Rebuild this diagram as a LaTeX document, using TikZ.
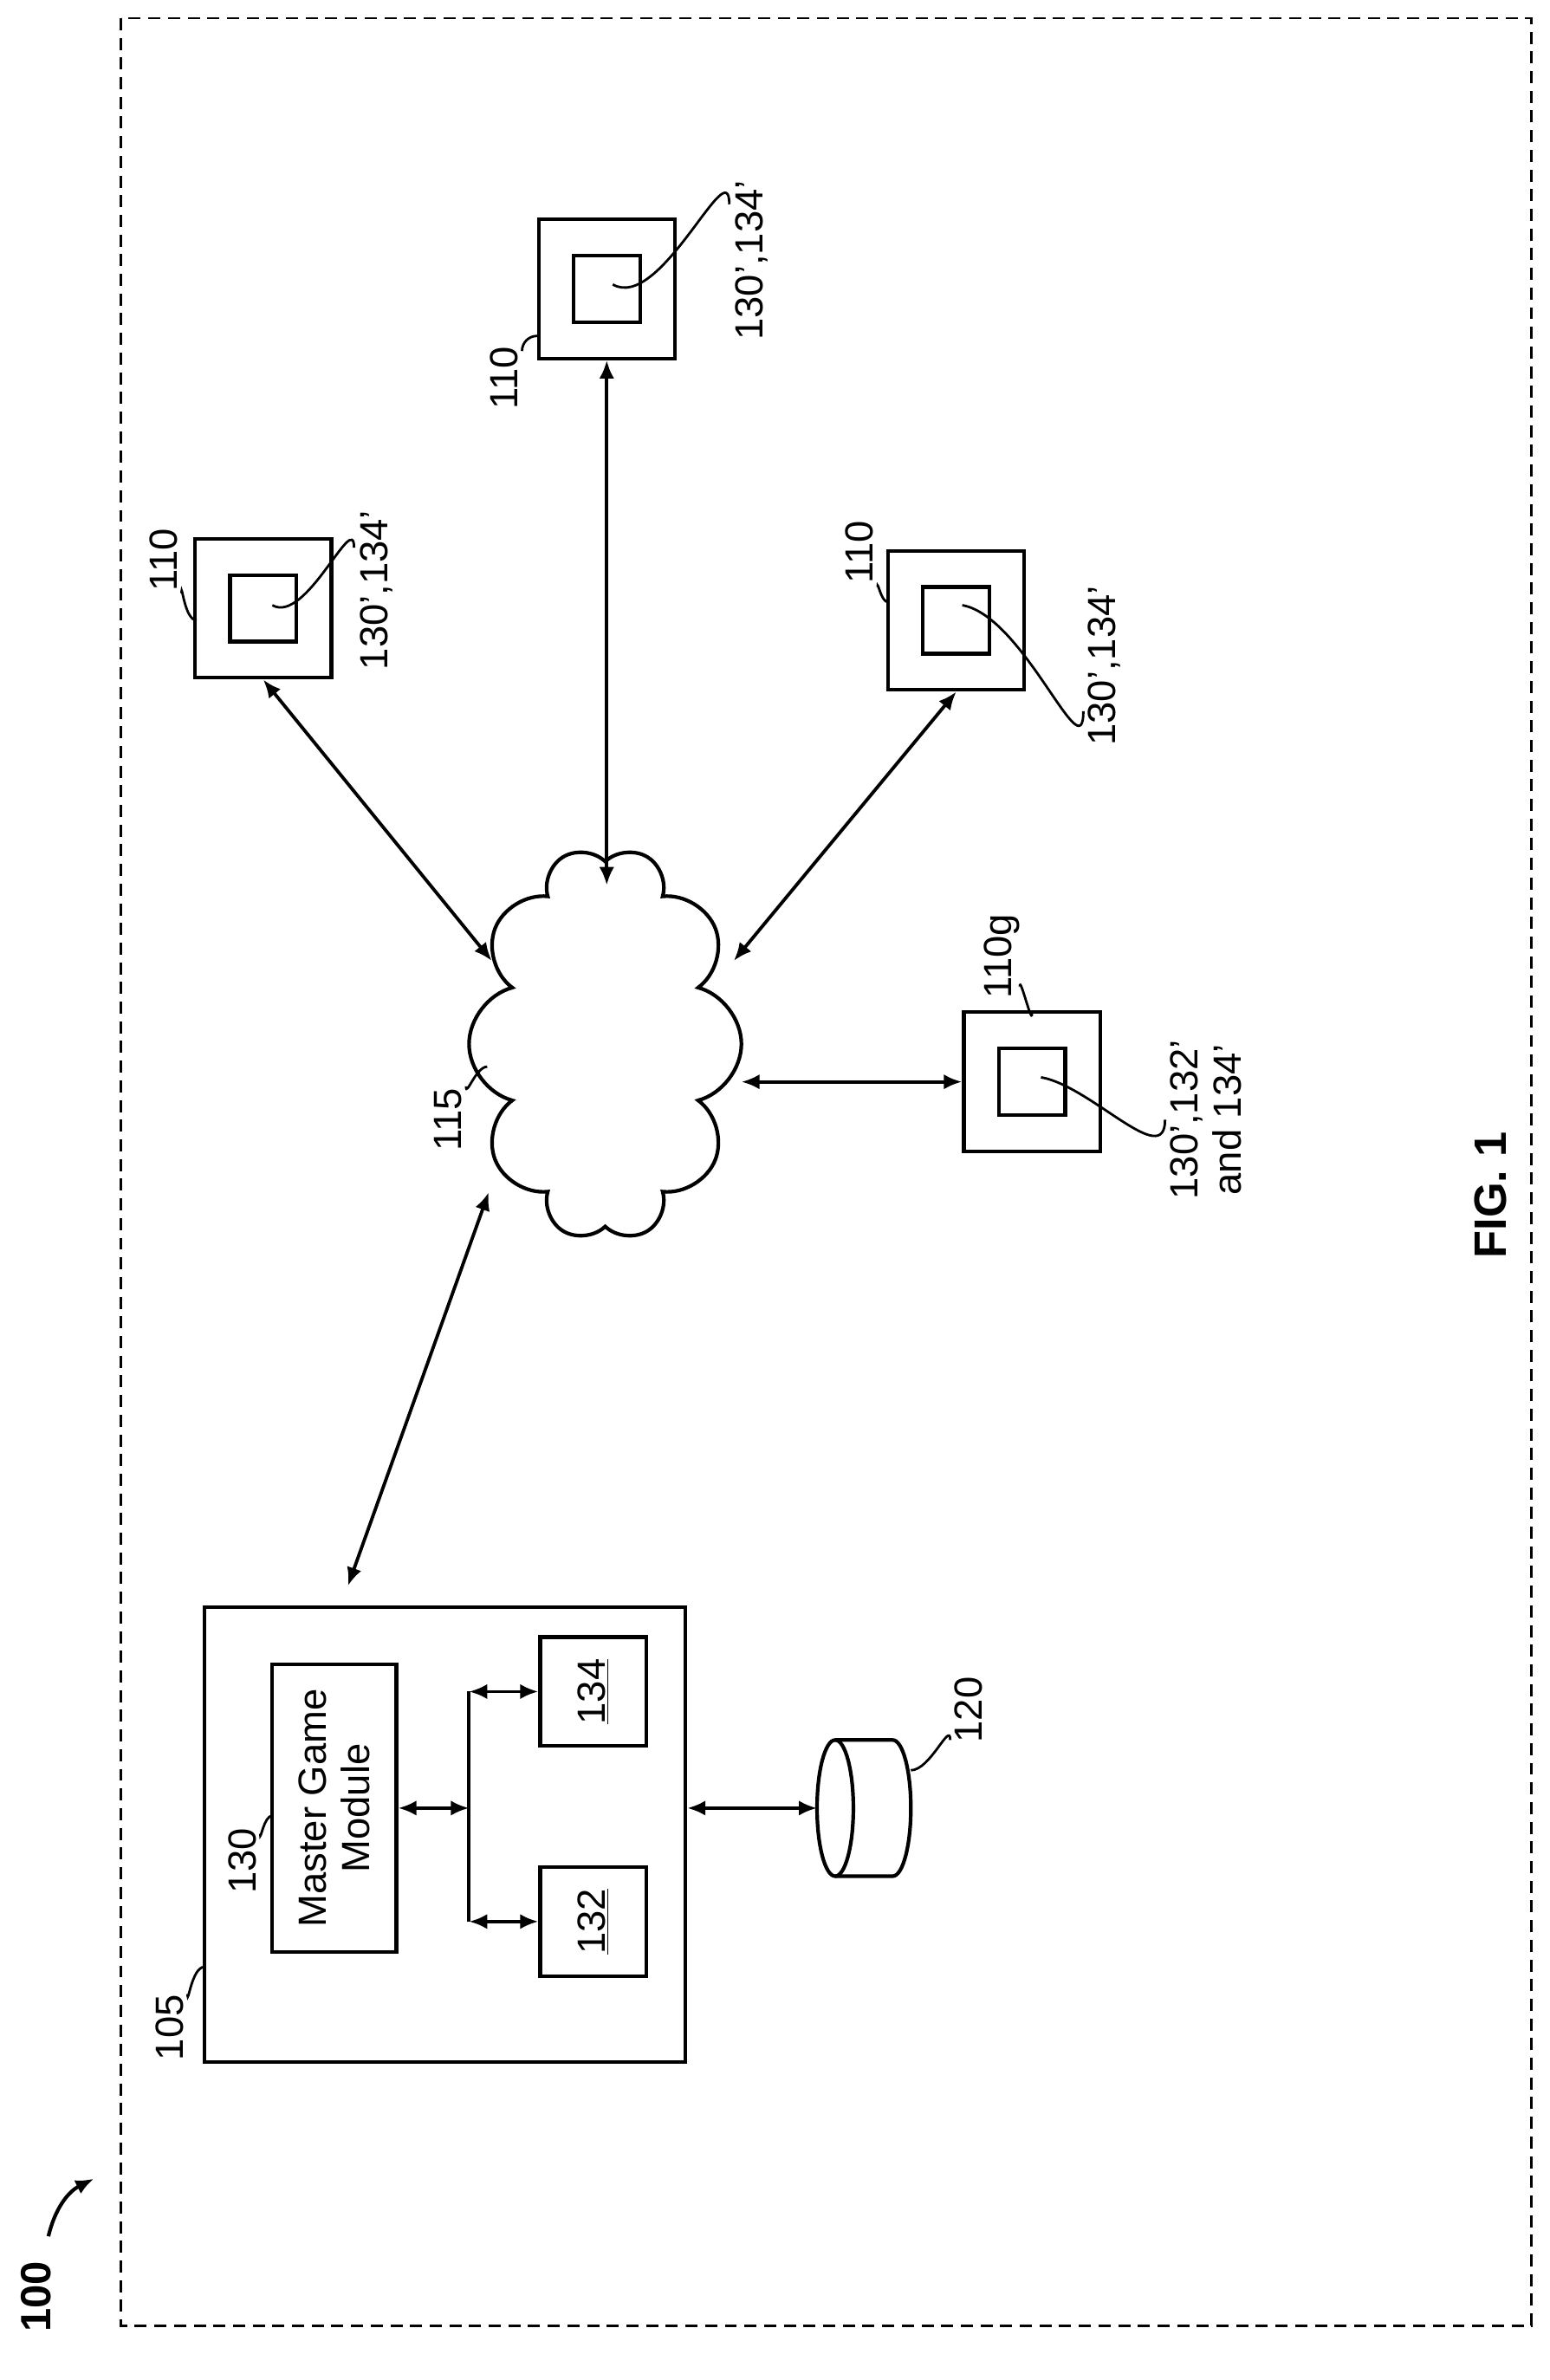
\documentclass[tikz,border=0pt]{standalone}
\usepackage{fontspec}
\setmainfont{Liberation Sans}
\usetikzlibrary{shapes.symbols,arrows.meta}
\begin{document}
\begin{tikzpicture}[x=1pt,y=-1pt,
  box/.style={draw,line width=2.4pt,inner sep=0},
  lab/.style={rotate=90,font=\fontsize{26}{29}\selectfont,inner sep=1pt},
  con/.style={line width=2.2pt,{Latex[length=12,width=10]}-{Latex[length=12,width=10]}},
  ld/.style={line width=1.6pt}]
\useasboundingbox (0,0) rectangle (1024,1573);
\draw[dashed,line width=1.6pt,dash pattern=on 8pt off 5pt] (80,12) rectangle (1012,1537);
\node[lab,font=\fontsize{28}{32}\selectfont\bfseries] (l100) at (24,1518) {100};
\draw[line width=2.4pt,-{Latex[length=12,width=10]}] (32,1478) to[bend left=25] (62,1440);
% server
\node[box,minimum width=318,minimum height=301] (srv) at (294,1212.5) {};
\node[box,minimum width=82,minimum height=190] (mgm) at (221,1195) {};
\node[rotate=90,align=center,font=\fontsize{26}{29}\selectfont] at (221,1195) {Master Game\\Module};
\node[box,minimum width=70,minimum height=72] (b132) at (392,1270) {};
\node[rotate=90,font=\fontsize{26}{29}\selectfont] at (392,1270) {\underline{132}};
\node[box,minimum width=70,minimum height=72] (b134) at (392,1118) {};
\node[rotate=90,font=\fontsize{26}{29}\selectfont] at (392,1118) {\underline{134}};
\coordinate (bus) at (310,1195);
\draw[con] (mgm.east) -- (bus);
\draw[line width=2.2pt] (310,1118) -- (310,1270);
\draw[con] (310,1270) -- (b132.west);
\draw[con] (310,1118) -- (b134.west);
\node[lab] (l105) at (112,1340) {105};
\draw[ld] (124,1318) to[out=-90,in=180] (135,1300);
\node[lab] (l130) at (160,1230) {130};
\draw[ld] (172,1212) to[out=-90,in=180] (180,1200);
% database
\coordinate (db) at (540,1195);
\draw[line width=2.4pt] (552,1195) ellipse (12 and 45);
\draw[line width=2.4pt] (552,1150) -- (590,1150) arc (-90:90:12 and 45) -- (552,1240);
\draw[con] (srv.east |- db) -- (db);
\node[lab] (l120) at (640,1130) {120};
\draw[ld] (628,1150) to[out=90,in=0] (602,1170);
% cloud
\node[cloud,draw,line width=2.4pt,cloud puffs=10,aspect=1.4,minimum width=260,minimum height=180,rotate=90] (cl) at (400,690) {};
\node[lab] (l115) at (296,740) {115};
\draw[ld] (308,718) to[out=-90,in=180] (322,705);
\draw[con] (230,1048) -- (323,788);
% devices
\newcommand{\dev}[3]{%
 \node[box,minimum width=90,minimum height=92] (#1) at (#2,#3) {};
 \node[box,minimum width=44,minimum height=44] (#1i) at (#2,#3) {};}
\dev{d1}{174}{402}
\dev{d2}{401}{191}
\dev{d3}{632}{410}
\dev{d4}{682}{715}
\coordinate (ct) at (401,585);
\draw[con] (325,635) -- (d1.south);
\draw[con] (ct) -- (d2.south);
\draw[con] (485,635) -- (d3.south);
\draw[con] (490,715) -- (d4.west);
\node[lab] at (108,370) {110};
\draw[ld] (120,392) to[out=90,in=180] (130,410);
\node[lab] at (249,390) {130',134'};
\draw[ld] (234,362) to[out=90,in=-30] (180,400);
\node[lab] at (333,250) {110};
\draw[ld] (345,232) to[out=90,in=180] (355,222);
\node[lab] at (497,172) {130',134'};
\draw[ld] (482,135) to[out=90,in=-30] (405,188);
\node[lab] at (568,365) {110};
\draw[ld] (580,388) to[out=90,in=180] (587,398);
\node[lab] at (730,440) {130',134'};
\draw[ld] (716,470) to[out=-90,in=-10] (636,400);
\node[lab] at (662,632) {110g};
\draw[ld] (674,652) to[out=90,in=-90] (682,670);
\node[lab,align=center] at (797,740) {130',132'\\and 134'};
\draw[ld] (770,740) to[out=-90,in=-10] (688,712);
\node[rotate=90,font=\fontsize{30}{34}\selectfont\bfseries] (fig) at (985,790) {FIG. 1};
\end{tikzpicture}
\end{document}
